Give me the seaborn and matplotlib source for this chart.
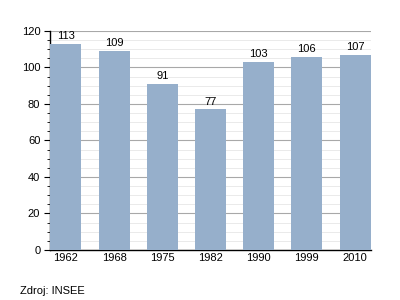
import matplotlib
matplotlib.use("Agg")
import matplotlib.pyplot as plt
import seaborn as sns
import pandas as pd
from matplotlib.ticker import MultipleLocator

years = ["1962", "1968", "1975", "1982", "1990", "1999", "2010"]
values = [113, 109, 91, 77, 103, 106, 107]

df = pd.DataFrame({"year": years, "value": values})

sns.set_style("white")
plt.rcParams['font.family'] = ['Liberation Sans', 'DejaVu Sans']
plt.rcParams['text.color'] = 'black'
plt.rcParams['xtick.color'] = 'black'
plt.rcParams['ytick.color'] = 'black'

fig = plt.figure(figsize=(4, 3), dpi=100)
ax = fig.add_axes([0.125, 0.1667, 0.8025, 0.73])

sns.barplot(data=df, x="year", y="value", color="#96AFCB", saturation=1,
            width=0.64, ax=ax, zorder=3, edgecolor="none", linewidth=0)

ax.set_ylim(0, 120)
ax.set_xlim(-0.33, 6.33)
ax.yaxis.set_major_locator(MultipleLocator(20))
ax.yaxis.set_minor_locator(MultipleLocator(5))
ax.grid(which="major", axis="y", color="#a8a8a8", linewidth=0.8, zorder=0)
ax.grid(which="minor", axis="y", color="#e6e6e6", linewidth=0.6, zorder=0)
ax.set_axisbelow(True)

for s in ["top", "right"]:
    ax.spines[s].set_visible(False)
ax.spines["left"].set_color("black")
ax.spines["bottom"].set_color("black")
ax.spines["left"].set_linewidth(1.0)
ax.spines["bottom"].set_linewidth(1.0)

ax.tick_params(axis="y", which="major", left=True, length=4, width=0.8, labelsize=8, pad=3, labelcolor="black")
ax.tick_params(axis="y", which="minor", left=True, length=2, width=0.6)
ax.tick_params(axis="x", bottom=False, length=0, labelsize=8, pad=2, labelcolor="black")
ax.set_xlabel("")
ax.set_ylabel("")

for i, v in enumerate(values):
    ax.annotate(str(v), xy=(i, v), xytext=(0, 2), textcoords="offset points",
                ha="center", va="bottom", fontsize=8, color="black")

fig.text(0.05, 0.015, "Zdroj: INSEE", fontsize=8, ha="left", va="bottom", color="black")

fig.savefig("out.png", dpi=100)
